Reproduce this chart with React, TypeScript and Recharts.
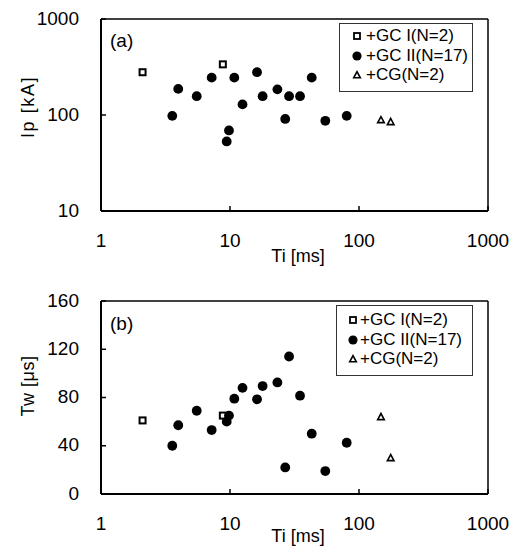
import React from 'react';
import { ScatterChart, Scatter, XAxis, YAxis, ReferenceLine, Legend } from 'recharts';

// ---- Data ----
const xTicks = [1, 10, 100, 1000];
const ipTicks = [10, 100, 1000];
const twTicks = [0, 40, 80, 120, 160];

const gc1Ti = [2.1, 8.8];
const gc1Ip = [279, 337];
const gc1Tw = [61, 65];

const gc2Ti = [3.57, 3.97, 5.52, 7.21, 9.43, 9.82, 10.8, 12.5, 16.2, 17.9, 23.3, 26.8, 28.7, 34.9, 43.0, 54.8, 80.3];
const gc2Ip = [98, 187, 157, 245, 53, 69, 245, 129, 279, 157, 185, 91, 157, 157, 245, 87, 98];
const gc2Tw = [40, 57, 69, 53, 60, 65, 79, 88, 78.5, 89.5, 92.5, 22, 114, 81.5, 50, 19, 42.5];

const cgTi = [148, 176];
const cgIp = [89, 85];
const cgTw = [64, 30];

const seriesNames = ['+GC I(N=2)', '+GC II(N=17)', '+CG(N=2)'];

const zip = (xs: number[], ys: number[]) => xs.map((x, i) => ({ x, y: ys[i] }));

const FONT = '"Liberation Sans", Arial, sans-serif';

// ---- Marker shapes ----
const SquareShape = (p: any) => (
  <rect x={p.cx - 3} y={p.cy - 3} width={6} height={6} fill="#fff" stroke="#000" strokeWidth={2} />
);
const CircleShape = (p: any) => <circle cx={p.cx} cy={p.cy} r={4.9} fill="#000" />;
const TriangleShape = (p: any) => (
  <polygon
    points={`${p.cx},${p.cy - 3.3} ${p.cx - 3.3},${p.cy + 2.8} ${p.cx + 3.3},${p.cy + 2.8}`}
    fill="#fff"
    stroke="#000"
    strokeWidth={1.6}
    strokeLinejoin="miter"
  />
);

// ---- Ticks ----
const XTick = (p: any) => (
  <g>
    <line x1={p.x} x2={p.x} y1={p.y} y2={p.y - 5} stroke="#000" strokeWidth={1.5} />
    <text x={p.x} y={p.y + 29} dy="0.355em" textAnchor="middle" fontSize={19} fontFamily={FONT} fill="#000">
      {String(p.payload.value)}
    </text>
  </g>
);
const YTick = (p: any) => (
  <g>
    <line x1={p.x} x2={p.x + 5} y1={p.y} y2={p.y} stroke="#000" strokeWidth={1.5} />
    <text x={p.x - 22} y={p.y - 1} dy="0.355em" textAnchor="end" fontSize={19} fontFamily={FONT} fill="#000">
      {String(p.payload.value)}
    </text>
  </g>
);

const XTitle = ({ text, cx, baseline }: any) => (
  <text x={cx} y={baseline} textAnchor="middle" fontSize={18} fontFamily={FONT} fill="#000">
    {text}
  </text>
);
const YTitle = ({ text, cx, cy, spacing }: any) => (
  <text
    x={cx}
    y={cy}
    transform={`rotate(-90 ${cx} ${cy})`}
    textAnchor="middle"
    dy="0.355em"
    fontSize={18}
    fontFamily={FONT}
    letterSpacing={spacing || 0}
    fill="#000"
  >
    {text}
  </text>
);

const LegendBox = ({ iconX, textX, rowTop, rowGap }: any) => {
  const icons = [
    <rect key="s" x={iconX - 3} y={7} width={6} height={6} fill="#fff" stroke="#000" strokeWidth={1.8} />,
    <circle key="c" cx={iconX} cy={10} r={4.6} fill="#000" />,
    <polygon
      key="t"
      points={`${iconX},${6.7} ${iconX - 3.3},${12.8} ${iconX + 3.3},${12.8}`}
      fill="#fff"
      stroke="#000"
      strokeWidth={1.6}
    />,
  ];
  return (
    <div
      style={{
        width: '100%',
        height: '100%',
        boxSizing: 'border-box',
        border: '1px solid #333',
        background: '#fff',
        position: 'relative',
        fontFamily: FONT,
      }}
    >
      {seriesNames.map((n, i) => (
        <div key={n} style={{ position: 'absolute', left: 0, top: rowTop + i * rowGap - 10, height: 20, width: '100%' }}>
          <svg width={20 + iconX} height={20} style={{ position: 'absolute', left: 0, top: 0 }}>
            {icons[i]}
          </svg>
          <span
            style={{
              position: 'absolute',
              left: textX,
              top: 0,
              lineHeight: '20px',
              fontSize: 17,
              color: '#000',
              whiteSpace: 'nowrap',
            }}
          >
            {n}
          </span>
        </div>
      ))}
    </div>
  );
};

const Panel = ({ tag, yTicks, yDomain, yLog, gc1, gc2, cg, marginTop, xAxisHeight, yTitle, yTitleCy, yTitleSpacing, xTitleBaseline, legendPos, tagTop }: any) => (
  <div style={{ position: 'relative', width: 515, height: 275 }}>
    <ScatterChart width={515} height={275} margin={{ top: marginTop, right: 27, bottom: 0, left: 0 }}>
      <XAxis
        type="number"
        dataKey="x"
        scale="log"
        domain={[1, 1000]}
        ticks={xTicks}
        allowDataOverflow
        height={xAxisHeight}
        tickSize={0}
        tickMargin={0}
        tick={<XTick />}
        axisLine={{ stroke: '#000', strokeWidth: 2 }}
        tickLine={false}
        interval={0}
        label={<XTitle text="Ti [ms]" cx={298} baseline={xTitleBaseline} />}
      />
      <YAxis
        type="number"
        dataKey="y"
        scale={yLog ? 'log' : 'linear'}
        domain={yDomain}
        ticks={yTicks}
        allowDataOverflow
        width={101}
        tickSize={0}
        tickMargin={0}
        tick={<YTick />}
        axisLine={{ stroke: '#000', strokeWidth: 2 }}
        tickLine={false}
        interval={0}
        label={<YTitle text={yTitle} cx={28} cy={yTitleCy} spacing={yTitleSpacing} />}
      />
      <ReferenceLine y={yDomain[1]} stroke="#000" strokeWidth={1.5} />
      <ReferenceLine x={1000} stroke="#000" strokeWidth={1.5} />
      <Legend
        layout="horizontal"
        verticalAlign="middle"
        align="center"
        wrapperStyle={legendPos.style}
        content={() => <LegendBox {...legendPos.box} />}
      />
      <Scatter name={seriesNames[0]} data={gc1} shape={SquareShape} isAnimationActive={false} />
      <Scatter name={seriesNames[1]} data={gc2} shape={CircleShape} isAnimationActive={false} />
      <Scatter name={seriesNames[2]} data={cg} shape={TriangleShape} isAnimationActive={false} />
    </ScatterChart>
    <div
      style={{
        position: 'absolute',
        left: 110,
        top: tagTop,
        fontSize: 19,
        lineHeight: '19px',
        fontFamily: FONT,
        color: '#000',
      }}
    >
      {tag}
    </div>
  </div>
);

export default function App() {
  return (
    <div style={{ position: 'absolute', left: 0, top: 0, width: 515, height: 550, background: '#fff' }}>
      <Panel
        tag="(a)"
        yTicks={ipTicks}
        yDomain={[10, 1000]}
        yLog
        gc1={zip(gc1Ti, gc1Ip)}
        gc2={zip(gc2Ti, gc2Ip)}
        cg={zip(cgTi, cgIp)}
        marginTop={19}
        xAxisHeight={64}
        yTitle="Ip [kA]"
        yTitleCy={107}
        yTitleSpacing={1.6}
        xTitleBaseline={261.5}
        tagTop={31}
        legendPos={{
          style: { position: 'absolute', left: 339, top: 23, width: 134, height: 69 },
          box: { iconX: 17, textX: 26, rowTop: 12, rowGap: 19.5 },
        }}
      />
      <Panel
        tag="(b)"
        yTicks={twTicks}
        yDomain={[0, 160]}
        yLog={false}
        gc1={zip(gc1Ti, gc1Tw)}
        gc2={zip(gc2Ti, gc2Tw)}
        cg={zip(cgTi, cgTw)}
        marginTop={26}
        xAxisHeight={56}
        yTitle="Tw [μs]"
        yTitleCy={111}
        yTitleSpacing={0.5}
        xTitleBaseline={266.7}
        tagTop={39}
        legendPos={{
          style: { position: 'absolute', left: 336, top: 30, width: 137, height: 71 },
          box: { iconX: 16, textX: 23, rowTop: 14, rowGap: 19.5 },
        }}
      />
    </div>
  );
}
